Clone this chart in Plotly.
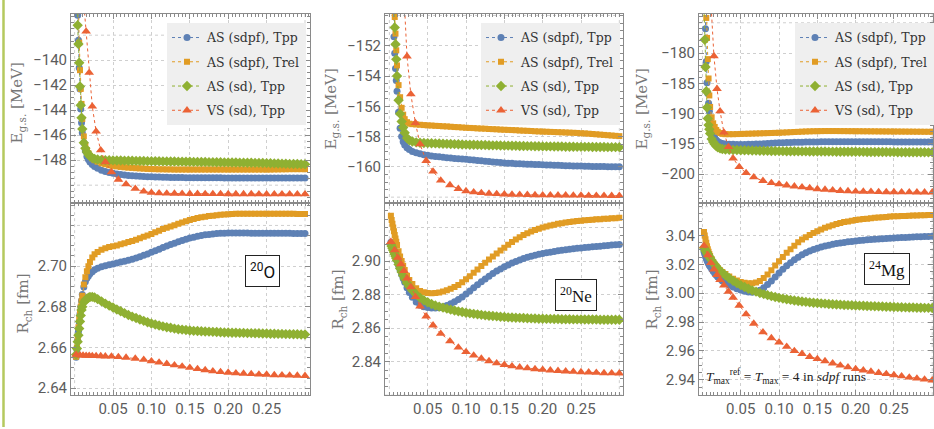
import plotly.graph_objects as go

# ---------------------------------------------------------------- sample grids
X_AS = [0.002, 0.003, 0.004, 0.005, 0.006, 0.007, 0.008, 0.009, 0.010, 0.012,
        0.014, 0.016, 0.018, 0.020, 0.023, 0.026, 0.030, 0.035, 0.040, 0.045,
        0.050, 0.055, 0.060, 0.065, 0.070, 0.075, 0.080, 0.085, 0.090, 0.095,
        0.100, 0.105, 0.110, 0.115, 0.120, 0.125, 0.130, 0.135, 0.140, 0.145,
        0.150, 0.155, 0.160, 0.165, 0.170, 0.175, 0.180, 0.185, 0.190, 0.195,
        0.200, 0.205, 0.210, 0.215, 0.220, 0.225, 0.230, 0.235, 0.240, 0.245,
        0.250, 0.255, 0.260, 0.265, 0.270, 0.275, 0.280, 0.285, 0.290, 0.295,
        0.300]

X_VS = [0.002, 0.007, 0.011, 0.015, 0.019, 0.023, 0.028, 0.034, 0.040, 0.048,
        0.057, 0.067, 0.079, 0.090, 0.100, 0.110, 0.120, 0.130, 0.140, 0.150,
        0.160, 0.170, 0.180, 0.190, 0.200, 0.210, 0.220, 0.230, 0.240, 0.250,
        0.260, 0.270, 0.280, 0.290, 0.300]

# ---------------------------------------------------------------- 20O
E_O_TPP = [-128.0, -132.5, -136.4, -138.4, -140.6, -142.3, -143.9, -145.0, -145.8, -146.6,
           -147.25, -147.7, -147.95, -148.15, -148.35, -148.5, -148.65, -148.8, -148.9, -148.98,
           -149.05, -149.1, -149.15, -149.19, -149.22, -149.25, -149.27, -149.29, -149.31, -149.32,
           -149.33, -149.34, -149.35, -149.36, -149.37, -149.38, -149.38, -149.39, -149.39, -149.40,
           -149.40, -149.40, -149.40, -149.41, -149.41, -149.41, -149.41, -149.41, -149.41, -149.42,
           -149.42, -149.42, -149.42, -149.42, -149.42, -149.42, -149.42, -149.42, -149.42, -149.42,
           -149.42, -149.42, -149.42, -149.42, -149.42, -149.42, -149.42, -149.42, -149.42, -149.42,
           -149.42]
E_O_TREL = [-127.0, -131.0, -134.0, -135.6, -138.6, -140.8, -142.3, -143.5, -144.7, -146.1,
            -146.85, -147.2, -147.45, -147.65, -147.85, -148.0, -148.12, -148.25, -148.33, -148.4,
            -148.46, -148.5, -148.54, -148.57, -148.6, -148.62, -148.64, -148.66, -148.68, -148.7,
            -148.71, -148.72, -148.73, -148.73, -148.74, -148.74, -148.75, -148.75, -148.75, -148.75,
            -148.75, -148.75, -148.75, -148.75, -148.75, -148.75, -148.75, -148.75, -148.75, -148.75,
            -148.75, -148.75, -148.75, -148.75, -148.75, -148.75, -148.75, -148.75, -148.75, -148.75,
            -148.75, -148.75, -148.74, -148.74, -148.73, -148.73, -148.72, -148.72, -148.72, -148.72,
            -148.72]
E_O_SD = [-132.0, -135.3, -137.2, -138.7, -140.2, -142.1, -143.6, -144.6, -145.5, -146.6,
          -147.05, -147.35, -147.55, -147.7, -147.82, -147.9, -147.95, -147.98, -148.0, -148.01,
          -148.02, -148.03, -148.03, -148.04, -148.05, -148.05, -148.06, -148.07, -148.07, -148.08,
          -148.08, -148.09, -148.09, -148.1, -148.1, -148.11, -148.11, -148.12, -148.12, -148.13,
          -148.13, -148.14, -148.14, -148.15, -148.15, -148.16, -148.16, -148.17, -148.17, -148.18,
          -148.18, -148.19, -148.19, -148.2, -148.2, -148.21, -148.21, -148.22, -148.22, -148.23,
          -148.24, -148.25, -148.26, -148.27, -148.28, -148.29, -148.3, -148.31, -148.31, -148.32,
          -148.33]
E_O_VS = [-105.0, -122.0, -134.8, -137.7, -141.0, -143.7, -145.7, -147.2, -148.15, -148.95,
          -149.55, -149.92, -150.28, -150.5, -150.6, -150.64, -150.66, -150.67, -150.68, -150.69,
          -150.69, -150.7, -150.7, -150.7, -150.71, -150.71, -150.71, -150.71, -150.72, -150.72,
          -150.72, -150.72, -150.72, -150.72, -150.72]

R_O_TPP = [2.6552, 2.6590, 2.6635, 2.6680, 2.6725, 2.6765, 2.6800, 2.6830, 2.6860, 2.6898,
           2.6923, 2.6940, 2.6952, 2.6962, 2.6973, 2.6982, 2.6990, 2.6997, 2.7002, 2.7007,
           2.7011, 2.7015, 2.7020, 2.7024, 2.7029, 2.7034, 2.7040, 2.7046, 2.7053, 2.7060,
           2.7068, 2.7075, 2.7083, 2.7091, 2.7099, 2.7106, 2.7113, 2.7120, 2.7126, 2.7132,
           2.7138, 2.7142, 2.7147, 2.7151, 2.7154, 2.7156, 2.7158, 2.7160, 2.7161, 2.7162,
           2.7163, 2.7163, 2.7163, 2.7163, 2.7163, 2.7163, 2.7162, 2.7162, 2.7162, 2.7162,
           2.7162, 2.7161, 2.7161, 2.7161, 2.7161, 2.7161, 2.7161, 2.7160, 2.7160, 2.7160,
           2.7160]
R_O_TREL = [2.6555, 2.6600, 2.6650, 2.6700, 2.6745, 2.6775, 2.6800, 2.6828, 2.6855, 2.6910,
            2.6945, 2.6975, 2.7000, 2.7020, 2.7043, 2.7058, 2.7070, 2.7080, 2.7088, 2.7094,
            2.7098, 2.7102, 2.7107, 2.7112, 2.7118, 2.7124, 2.7130, 2.7137, 2.7144, 2.7151,
            2.7158, 2.7166, 2.7174, 2.7182, 2.7189, 2.7195, 2.7201, 2.7208, 2.7215, 2.7221,
            2.7227, 2.7232, 2.7236, 2.7240, 2.7243, 2.7246, 2.7248, 2.7250, 2.7252, 2.7254,
            2.7255, 2.7256, 2.7257, 2.7257, 2.7257, 2.7257, 2.7258, 2.7258, 2.7258, 2.7258,
            2.7258, 2.7258, 2.7258, 2.7257, 2.7257, 2.7257, 2.7257, 2.7257, 2.7256, 2.7256,
            2.7256]
R_O_SD = [2.6565, 2.6595, 2.6628, 2.6660, 2.6693, 2.6728, 2.6758, 2.6785, 2.6800, 2.6822,
          2.6833, 2.6840, 2.6845, 2.6848, 2.6849, 2.6846, 2.6838, 2.6827, 2.6816, 2.6806,
          2.6797, 2.6787, 2.6778, 2.6769, 2.6760, 2.6752, 2.6745, 2.6738, 2.6731, 2.6724,
          2.6718, 2.6713, 2.6708, 2.6704, 2.6700, 2.6697, 2.6693, 2.6690, 2.6688, 2.6686,
          2.6684, 2.6682, 2.6681, 2.6680, 2.6679, 2.6678, 2.6677, 2.6676, 2.6675, 2.6674,
          2.6674, 2.6673, 2.6673, 2.6672, 2.6672, 2.6671, 2.6671, 2.6670, 2.6670, 2.6669,
          2.6669, 2.6668, 2.6668, 2.6667, 2.6667, 2.6666, 2.6666, 2.6665, 2.6665, 2.6664,
          2.6664]
R_O_VS = [2.6565, 2.6562, 2.6561, 2.6560, 2.6560, 2.6559, 2.6559, 2.6558, 2.6557, 2.6556,
          2.6554, 2.6551, 2.6546, 2.6540, 2.6533, 2.6527, 2.6520, 2.6513, 2.6507, 2.6501,
          2.6495, 2.6489, 2.6484, 2.6480, 2.6477, 2.6474, 2.6472, 2.6470, 2.6468, 2.6467,
          2.6465, 2.6464, 2.6463, 2.6462, 2.6461]

# ---------------------------------------------------------------- 20Ne
E_NE_TPP = [-143.0, -145.5, -147.7, -149.3, -151.4, -152.5, -153.5, -154.3, -155.0, -156.4,
            -157.45, -158.0, -158.35, -158.55, -158.73, -158.86, -158.98, -159.07, -159.14, -159.2,
            -159.24, -159.28, -159.31, -159.34, -159.37, -159.4, -159.42, -159.44, -159.46, -159.48,
            -159.5, -159.53, -159.55, -159.58, -159.6, -159.63, -159.65, -159.68, -159.7, -159.72,
            -159.74, -159.76, -159.77, -159.79, -159.8, -159.81, -159.82, -159.83, -159.84, -159.85,
            -159.86, -159.87, -159.88, -159.89, -159.9, -159.91, -159.92, -159.93, -159.94, -159.95,
            -159.95, -159.96, -159.96, -159.97, -159.97, -159.98, -159.98, -159.99, -159.99, -160.0,
            -160.0]
E_NE_TREL = [-140.0, -143.0, -145.3, -147.2, -148.8, -150.1, -151.2, -152.3, -153.3, -154.6,
             -155.4, -156.1, -156.55, -156.85, -157.05, -157.15, -157.18, -157.2, -157.22, -157.24,
             -157.26, -157.27, -157.29, -157.3, -157.32, -157.33, -157.35, -157.37, -157.38, -157.4,
             -157.42, -157.43, -157.44, -157.46, -157.47, -157.48, -157.5, -157.51, -157.52, -157.54,
             -157.55, -157.56, -157.57, -157.58, -157.6, -157.61, -157.62, -157.63, -157.65, -157.66,
             -157.67, -157.68, -157.69, -157.7, -157.71, -157.72, -157.73, -157.74, -157.75, -157.76,
             -157.78, -157.79, -157.81, -157.83, -157.85, -157.87, -157.89, -157.91, -157.93, -157.95,
             -157.97]
E_NE_SD = [-140.0, -143.0, -145.5, -147.7, -149.5, -150.8, -151.9, -152.9, -154.0, -155.6,
           -156.5, -157.0, -157.4, -157.75, -158.1, -158.25, -158.33, -158.38, -158.41, -158.42,
           -158.43, -158.44, -158.45, -158.46, -158.47, -158.48, -158.49, -158.5, -158.51, -158.52,
           -158.53, -158.54, -158.54, -158.55, -158.56, -158.56, -158.57, -158.58, -158.58, -158.59,
           -158.6, -158.6, -158.61, -158.61, -158.62, -158.62, -158.63, -158.63, -158.64, -158.64,
           -158.65, -158.65, -158.65, -158.66, -158.66, -158.66, -158.67, -158.67, -158.67, -158.68,
           -158.68, -158.68, -158.68, -158.69, -158.69, -158.69, -158.69, -158.7, -158.7, -158.7,
           -158.7]
E_NE_VS = [-110.0, -125.0, -136.0, -143.0, -148.6, -152.7, -155.2, -157.1, -158.5, -159.6,
           -160.3, -160.9, -161.2, -161.45, -161.6, -161.67, -161.72, -161.76, -161.79, -161.81,
           -161.83, -161.84, -161.85, -161.86, -161.87, -161.87, -161.88, -161.88, -161.89, -161.89,
           -161.9, -161.9, -161.9, -161.91, -161.91]

R_NE_TPP = [2.9112, 2.9098, 2.9084, 2.9070, 2.9056, 2.9043, 2.9030, 2.9016, 2.9002, 2.8974,
            2.8947, 2.8920, 2.8896, 2.8873, 2.8841, 2.8812, 2.8784, 2.8755, 2.8737, 2.8728,
            2.8723, 2.8720, 2.8720, 2.8722, 2.8727, 2.8735, 2.8745, 2.8757, 2.8770, 2.8786,
            2.8803, 2.8821, 2.8840, 2.8858, 2.8876, 2.8893, 2.8909, 2.8925, 2.8940, 2.8953,
            2.8966, 2.8977, 2.8988, 2.8998, 2.9007, 2.9015, 2.9022, 2.9029, 2.9035, 2.9040,
            2.9045, 2.9049, 2.9053, 2.9057, 2.9061, 2.9064, 2.9067, 2.9070, 2.9073, 2.9076,
            2.9078, 2.9081, 2.9083, 2.9085, 2.9087, 2.9089, 2.9091, 2.9093, 2.9095, 2.9097,
            2.9099]
R_NE_TREL = [2.9270, 2.9245, 2.9222, 2.9200, 2.9178, 2.9156, 2.9135, 2.9115, 2.9095, 2.9058,
             2.9027, 2.9000, 2.8972, 2.8947, 2.8912, 2.8887, 2.8863, 2.8838, 2.8822, 2.8814,
             2.8810, 2.8808, 2.8809, 2.8812, 2.8818, 2.8826, 2.8835, 2.8845, 2.8857, 2.8873,
             2.8891, 2.8910, 2.8930, 2.8950, 2.8970, 2.8990, 2.9009, 2.9027, 2.9045, 2.9063,
             2.9080, 2.9097, 2.9113, 2.9128, 2.9142, 2.9155, 2.9166, 2.9176, 2.9185, 2.9193,
             2.9200, 2.9206, 2.9212, 2.9217, 2.9222, 2.9226, 2.9230, 2.9233, 2.9236, 2.9239,
             2.9241, 2.9243, 2.9245, 2.9247, 2.9249, 2.9250, 2.9252, 2.9253, 2.9255, 2.9256,
             2.9258]
R_NE_SD = [2.9100, 2.9088, 2.9076, 2.9064, 2.9052, 2.9040, 2.9028, 2.9016, 2.9004, 2.8980,
           2.8956, 2.8934, 2.8913, 2.8894, 2.8869, 2.8848, 2.8824, 2.8800, 2.8781, 2.8766,
           2.8754, 2.8744, 2.8735, 2.8728, 2.8722, 2.8716, 2.8710, 2.8705, 2.8700, 2.8696,
           2.8692, 2.8688, 2.8685, 2.8682, 2.8679, 2.8676, 2.8674, 2.8672, 2.8670, 2.8668,
           2.8666, 2.8664, 2.8663, 2.8662, 2.8661, 2.8660, 2.8659, 2.8658, 2.8657, 2.8656,
           2.8656, 2.8655, 2.8655, 2.8654, 2.8654, 2.8653, 2.8653, 2.8653, 2.8652, 2.8652,
           2.8652, 2.8651, 2.8651, 2.8651, 2.8651, 2.8650, 2.8650, 2.8650, 2.8650, 2.8650,
           2.8650]
R_NE_VS = [2.9115, 2.9065, 2.9020, 2.8982, 2.8942, 2.8897, 2.8845, 2.8786, 2.8730, 2.8670,
           2.8617, 2.8567, 2.8522, 2.8485, 2.8458, 2.8437, 2.8418, 2.8403, 2.8391, 2.8381,
           2.8373, 2.8366, 2.8361, 2.8356, 2.8352, 2.8348, 2.8345, 2.8342, 2.8340, 2.8338,
           2.8336, 2.8334, 2.8332, 2.8331, 2.8330]

# ---------------------------------------------------------------- 24Mg
E_MG_TPP = [-165.0, -171.0, -176.0, -181.4, -184.9, -186.7, -188.3, -189.6, -191.0, -192.5,
            -193.45, -193.95, -194.35, -194.6, -194.8, -194.93, -195.0, -195.05, -195.08, -195.1,
            -195.1, -195.09, -195.08, -195.06, -195.03, -195.0, -194.97, -194.93, -194.9, -194.86,
            -194.83, -194.8, -194.78, -194.76, -194.74, -194.72, -194.71, -194.7, -194.69, -194.68,
            -194.67, -194.66, -194.66, -194.65, -194.65, -194.64, -194.64, -194.64, -194.64, -194.64,
            -194.64, -194.64, -194.64, -194.65, -194.65, -194.65, -194.65, -194.66, -194.66, -194.66,
            -194.67, -194.67, -194.67, -194.68, -194.68, -194.68, -194.69, -194.69, -194.69, -194.7,
            -194.7]
E_MG_TREL = [-160.0, -165.0, -170.0, -174.2, -177.5, -181.0, -184.2, -187.0, -188.9, -190.6,
             -191.6, -192.2, -192.7, -193.0, -193.2, -193.35, -193.4, -193.4, -193.4, -193.38,
             -193.36, -193.34, -193.32, -193.3, -193.28, -193.26, -193.24, -193.22, -193.2, -193.18,
             -193.16, -193.13, -193.1, -193.07, -193.04, -193.01, -192.98, -192.95, -192.93, -192.91,
             -192.9, -192.89, -192.88, -192.88, -192.88, -192.88, -192.89, -192.89, -192.9, -192.9,
             -192.91, -192.91, -192.92, -192.92, -192.93, -192.93, -192.94, -192.94, -192.95, -192.95,
             -192.96, -192.96, -192.97, -192.97, -192.98, -192.98, -192.99, -192.99, -193.0, -193.0,
             -193.0]
E_MG_SD = [-172.5, -177.8, -182.3, -186.3, -189.0, -190.8, -191.9, -192.6, -193.3, -194.2,
           -194.7, -195.05, -195.35, -195.55, -195.75, -195.85, -195.92, -195.96, -196.0, -196.02,
           -196.04, -196.06, -196.08, -196.1, -196.11, -196.13, -196.14, -196.16, -196.17, -196.18,
           -196.19, -196.2, -196.21, -196.22, -196.22, -196.23, -196.24, -196.24, -196.25, -196.26,
           -196.26, -196.27, -196.27, -196.28, -196.28, -196.29, -196.29, -196.3, -196.3, -196.31,
           -196.31, -196.32, -196.32, -196.33, -196.33, -196.34, -196.34, -196.35, -196.35, -196.36,
           -196.36, -196.37, -196.37, -196.38, -196.38, -196.38, -196.39, -196.39, -196.39, -196.4,
           -196.4]
E_MG_VS = [-120.0, -155.0, -171.5, -180.5, -185.9, -189.6, -193.1, -195.5, -197.4, -198.8,
           -199.8, -200.5, -201.1, -201.45, -201.65, -201.85, -202.0, -202.15, -202.3, -202.45,
           -202.55, -202.65, -202.75, -202.8, -202.85, -202.88, -202.9, -202.93, -202.95, -202.96,
           -202.97, -202.98, -202.99, -203.0, -203.0]

R_MG_TPP = [3.0290, 3.0272, 3.0255, 3.0240, 3.0227, 3.0215, 3.0204, 3.0194, 3.0185, 3.0168,
            3.0152, 3.0138, 3.0125, 3.0113, 3.0098, 3.0085, 3.0071, 3.0056, 3.0043, 3.0032,
            3.0022, 3.0014, 3.0009, 3.0007, 3.0010, 3.0021, 3.0038, 3.0060, 3.0085, 3.0112,
            3.0140, 3.0166, 3.0190, 3.0212, 3.0232, 3.0250, 3.0266, 3.0280, 3.0292, 3.0303,
            3.0312, 3.0320, 3.0327, 3.0333, 3.0339, 3.0344, 3.0348, 3.0352, 3.0356, 3.0359,
            3.0362, 3.0365, 3.0368, 3.0370, 3.0372, 3.0374, 3.0376, 3.0378, 3.0380, 3.0381,
            3.0383, 3.0384, 3.0386, 3.0387, 3.0388, 3.0390, 3.0391, 3.0392, 3.0393, 3.0394,
            3.0395]
R_MG_TREL = [3.0425, 3.0400, 3.0375, 3.0350, 3.0325, 3.0305, 3.0288, 3.0272, 3.0258, 3.0235,
             3.0215, 3.0200, 3.0187, 3.0175, 3.0160, 3.0147, 3.0133, 3.0116, 3.0100, 3.0088,
             3.0078, 3.0073, 3.0070, 3.0070, 3.0074, 3.0085, 3.0105, 3.0130, 3.0160, 3.0192,
             3.0222, 3.0252, 3.0280, 3.0305, 3.0330, 3.0353, 3.0372, 3.0388, 3.0403, 3.0417,
             3.0430, 3.0442, 3.0453, 3.0463, 3.0472, 3.0480, 3.0487, 3.0493, 3.0498, 3.0503,
             3.0507, 3.0511, 3.0514, 3.0517, 3.0520, 3.0523, 3.0525, 3.0527, 3.0529, 3.0531,
             3.0533, 3.0534, 3.0535, 3.0536, 3.0537, 3.0538, 3.0539, 3.0540, 3.0541, 3.0542,
             3.0543]
R_MG_SD = [3.0315, 3.0306, 3.0297, 3.0288, 3.0279, 3.0270, 3.0261, 3.0252, 3.0244, 3.0228,
           3.0212, 3.0197, 3.0183, 3.0171, 3.0155, 3.0141, 3.0124, 3.0104, 3.0086, 3.0070,
           3.0056, 3.0043, 3.0031, 3.0020, 3.0011, 3.0002, 2.9994, 2.9987, 2.9980, 2.9974,
           2.9968, 2.9963, 2.9958, 2.9954, 2.9950, 2.9946, 2.9943, 2.9940, 2.9937, 2.9934,
           2.9932, 2.9930, 2.9928, 2.9926, 2.9924, 2.9922, 2.9921, 2.9919, 2.9918, 2.9917,
           2.9915, 2.9914, 2.9913, 2.9912, 2.9911, 2.9910, 2.9909, 2.9908, 2.9907, 2.9906,
           2.9905, 2.9904, 2.9903, 2.9902, 2.9901, 2.9901, 2.9900, 2.9900, 2.9899, 2.9899,
           2.9898]
R_MG_VS = [3.0330, 3.0265, 3.0210, 3.0166, 3.0128, 3.0092, 3.0055, 3.0012, 2.9970, 2.9915,
           2.9855, 2.9790, 2.9730, 2.9690, 2.9660, 2.9630, 2.9600, 2.9580, 2.9560, 2.9545,
           2.9530, 2.9515, 2.9500, 2.9488, 2.9476, 2.9466, 2.9457, 2.9449, 2.9441, 2.9433,
           2.9425, 2.9417, 2.9410, 2.9403, 2.9397]

# ---------------------------------------------------------------- labels / ticks
SERIES = ["AS (sdpf), Tpp", "AS (sdpf), Trel", "AS (sd), Tpp", "VS (sd), Tpp"]
NUCLEI = ["<sup>20</sup>O", "<sup>20</sup>Ne", "<sup>24</sup>Mg"]

X_TICKS = [0.05, 0.10, 0.15, 0.20, 0.25]
X_TICKTEXT = ["0.05", "0.10", "0.15", "0.20", "0.25"]
X_GRID_EXTRA = [0.0, 0.30]

E_TICKS = [
    [-148, -146, -144, -142, -140],
    [-160, -158, -156, -154, -152],
    [-200, -195, -190, -185, -180],
]
E_TICKTEXT = [
    ["−148", "−146", "−144", "−142", "−140"],
    ["−160", "−158", "−156", "−154", "−152"],
    ["−200", "−195", "−190", "−185", "−180"],
]
E_GRID_EXTRA = [[-150, -138], [-162, -150], [-175]]

R_TICKS = [
    [2.64, 2.66, 2.68, 2.70],
    [2.84, 2.86, 2.88, 2.90],
    [2.94, 2.96, 2.98, 3.00, 3.02, 3.04],
]
R_TICKTEXT = [
    ["2.64", "2.66", "2.68", "2.70"],
    ["2.84", "2.86", "2.88", "2.90"],
    ["2.94", "2.96", "2.98", "3.00", "3.02", "3.04"],
]
R_GRID_EXTRA = [[2.72], [2.82, 2.92], [3.06]]

ENERGY = [[E_O_TPP, E_O_TREL, E_O_SD, E_O_VS],
          [E_NE_TPP, E_NE_TREL, E_NE_SD, E_NE_VS],
          [E_MG_TPP, E_MG_TREL, E_MG_SD, E_MG_VS]]
RADIUS = [[R_O_TPP, R_O_TREL, R_O_SD, R_O_VS],
          [R_NE_TPP, R_NE_TREL, R_NE_SD, R_NE_VS],
          [R_MG_TPP, R_MG_TREL, R_MG_SD, R_MG_VS]]

for block in (ENERGY, RADIUS):
    for panel in block:
        for k, ys in enumerate(panel):
            assert len(ys) == len(X_VS if k == 3 else X_AS)

# ---------------------------------------------------------------- styling
W, H = 934, 429
COLORS = ["#5E81B5", "#E19C24", "#8FB032", "#EB6235"]
SYMBOLS = ["circle", "square", "diamond", "triangle-up"]
MSIZE = [7, 6, 8, 8.5]
FRAME = "#8a8a8a"
GRID = "#cfcfcf"
TICKFONT = dict(family="Roboto", size=15, color="#5c5c5c")
SERIF = "DejaVu Serif"

PANEL_PX = [(71, 310), (385, 623), (699, 933)]
X_RANGE = [(-0.0047, 0.3065), (-0.0057, 0.3048), (-0.0045, 0.301)]
E_RANGE = [(-151.43, -136.3), (-162.39, -149.9), (-204.77, -173.54)]
R_RANGE = [(2.6366, 2.731), (2.82, 2.9346), (2.9294, 3.0625)]
ROW_PY = [(14, 204), (204, 397)]
E_MINOR = [0.5, 0.5, 1.0]


def sfx(ax):
    # plotly names the first axis "x"/"y", the rest "x2", "y3", ...
    return "" if ax == 1 else str(ax)


def xdom(c):
    a, b = PANEL_PX[c]
    return [a / W, b / W]


def ydom(r):
    t, b = ROW_PY[r]
    return [(H - b) / H, (H - t) / H]


def frame_axis(**kw):
    base = dict(showline=True, linecolor=FRAME, linewidth=1, mirror="ticks",
                ticks="inside", ticklen=5, tickwidth=1, tickcolor=FRAME,
                showgrid=True, gridcolor=GRID, griddash="dot", gridwidth=1,
                zeroline=False, tickfont=TICKFONT, tickmode="array")
    base.update(kw)
    return base


def minor(step):
    return dict(tickmode="linear", tick0=0, dtick=step, ticks="inside",
                ticklen=3, tickcolor=FRAME, showgrid=False)


def grid_line(ax, value, vertical):
    # dotted guide line at a position that carries no tick label
    style = dict(color=GRID, width=1, dash="dot")
    s = sfx(ax)
    if vertical:
        return dict(type="line", layer="below", xref=f"x{s}", yref=f"y{s} domain",
                    x0=value, x1=value, y0=0, y1=1, line=style)
    return dict(type="line", layer="below", xref=f"x{s} domain", yref=f"y{s}",
                x0=0, x1=1, y0=value, y1=value, line=style)


fig = go.Figure()
layout = {}
shapes = []

for c in range(3):
    top, bot = c + 1, c + 4
    lg = "legend" if c == 0 else f"legend{c + 1}"
    for row, data in ((0, ENERGY[c]), (1, RADIUS[c])):
        ax = top if row == 0 else bot
        for k in range(4):
            xs = X_VS if k == 3 else X_AS
            fig.add_trace(go.Scatter(
                x=xs, y=data[k], xaxis=f"x{sfx(ax)}", yaxis=f"y{sfx(ax)}",
                mode="lines+markers", name=SERIES[k],
                line=dict(color=COLORS[k], width=1, dash="dot"),
                marker=dict(symbol=SYMBOLS[k], size=MSIZE[k], color=COLORS[k],
                            line=dict(width=0)),
                legend=lg, legendgroup=f"{c}-{k}", showlegend=(row == 0),
                cliponaxis=True, hoverinfo="skip"))

    for row, ax in ((0, top), (1, bot)):
        layout[f"xaxis{sfx(ax)}"] = frame_axis(
            domain=xdom(c), range=list(X_RANGE[c]), anchor=f"y{sfx(ax)}",
            tickvals=X_TICKS, ticktext=X_TICKTEXT, showticklabels=(row == 1),
            minor=minor(0.005))
        for xv in X_GRID_EXTRA:
            shapes.append(grid_line(ax, xv, True))
    layout[f"yaxis{sfx(top)}"] = frame_axis(
        domain=ydom(0), range=list(E_RANGE[c]), anchor=f"x{sfx(top)}",
        tickvals=E_TICKS[c], ticktext=E_TICKTEXT[c], minor=minor(E_MINOR[c]))
    layout[f"yaxis{sfx(bot)}"] = frame_axis(
        domain=ydom(1), range=list(R_RANGE[c]), anchor=f"x{sfx(bot)}",
        tickvals=R_TICKS[c], ticktext=R_TICKTEXT[c], minor=minor(0.005))
    for yv in E_GRID_EXTRA[c]:
        shapes.append(grid_line(top, yv, False))
    for yv in R_GRID_EXTRA[c]:
        shapes.append(grid_line(bot, yv, False))

    layout[lg] = dict(
        x=(PANEL_PX[c][0] + 96) / W, y=(H - 23) / H,
        xanchor="left", yanchor="top", bgcolor="#efefef", borderwidth=0,
        font=dict(family=SERIF, size=12.5, color="#333333"),
        itemwidth=30, tracegroupgap=5, traceorder="grouped")

# axis titles
ann = []
E_TITLE_PX = [(18, 104), (331, 110), (642, 110)]
R_TITLE_PX = [(24, 305), (339, 301), (653, 301)]
for c in range(3):
    for (px, py), txt in ((E_TITLE_PX[c], "E<sub>g.s.</sub> [MeV]"),
                          (R_TITLE_PX[c], "R<sub>ch</sub> [fm]")):
        ann.append(dict(xref="paper", yref="paper", x=px / W, y=(H - py) / H,
                        text=txt, textangle=-90, showarrow=False,
                        xanchor="center", yanchor="middle",
                        font=dict(family=SERIF, size=15, color="#777777")))

# nucleus tags
TAG_POS = [(0.2445, 2.6977), (0.2429, 2.8799), (0.2404, 3.0168)]
TAG_FONT = ["Roboto", "Liberation Serif", "Liberation Serif"]
for c in range(3):
    s = sfx(c + 4)
    ann.append(dict(xref=f"x{s}", yref=f"y{s}", x=TAG_POS[c][0], y=TAG_POS[c][1],
                    text=NUCLEI[c], showarrow=False, bgcolor="white",
                    bordercolor="#222222", borderwidth=1, borderpad=4,
                    font=dict(family=TAG_FONT[c], size=17, color="#111111")))

ann.append(dict(xref="x6", yref="y6", x=0.002, y=2.9423, xanchor="left", yanchor="middle",
                showarrow=False,
                text="<i>T</i><sub>max</sub><sup>ref</sup> = <i>T</i><sub>max</sub> = 4 in <i>sdpf</i> runs",
                font=dict(family="Liberation Serif", size=13.5, color="#222222")))

# thin accent rule along the left edge of the page
shapes.append(dict(type="line", xref="paper", yref="paper", x0=3.5 / W, x1=3.5 / W,
                   y0=0, y1=1, line=dict(color="#b5c95e", width=2.5)))

fig.update_layout(
    width=W, height=H, margin=dict(l=0, r=0, t=0, b=0),
    paper_bgcolor="white", plot_bgcolor="white",
    annotations=ann, shapes=shapes, **layout)

fig.write_html("out.html")
